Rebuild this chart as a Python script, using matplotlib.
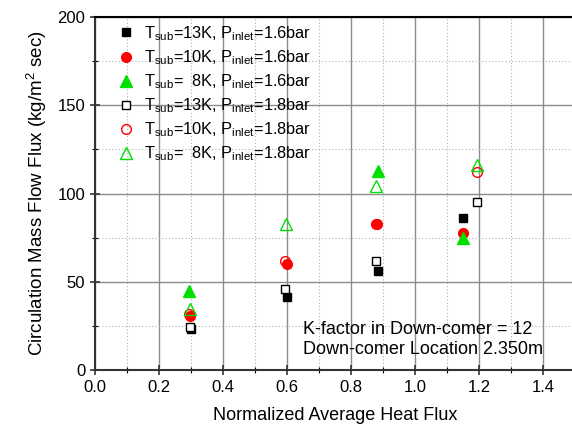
import numpy as np
import matplotlib
matplotlib.use("Agg")
from matplotlib import pyplot as plt
from matplotlib.ticker import MultipleLocator

plt.rcParams['font.family'] = ['Liberation Sans', 'DejaVu Sans']
plt.rcParams['mathtext.fontset'] = 'custom'
plt.rcParams['mathtext.rm'] = 'Liberation Sans'
plt.rcParams['mathtext.it'] = 'Liberation Sans'

# 1.6 bar series
x_13k_16 = [0.300, 0.600, 0.885, 1.151]
y_13k_16 = [23.5, 41.6, 56.3, 86.3]
x_10k_16 = [0.298, 0.600, 0.883, 1.151]
y_10k_16 = [30.5, 60.2, 82.6, 77.8]
x_8k_16 = [0.295, 0.885, 1.151]
y_8k_16 = [44.8, 112.9, 74.6]
# 1.8 bar series
x_13k_18 = [0.297, 0.595, 0.878, 1.193]
y_13k_18 = [24.2, 46.0, 61.8, 95.4]
x_10k_18 = [0.295, 0.593, 0.878, 1.193]
y_10k_18 = [31.8, 61.6, 83.0, 112.4]
x_8k_18 = [0.297, 0.597, 0.878, 1.193]
y_8k_18 = [34.4, 82.5, 104.2, 116.0]

labels = [r'T$_{\mathrm{sub}}$=13K, P$_{\mathrm{inlet}}$=1.6bar',
          r'T$_{\mathrm{sub}}$=10K, P$_{\mathrm{inlet}}$=1.6bar',
          r'T$_{\mathrm{sub}}$=  8K, P$_{\mathrm{inlet}}$=1.6bar',
          r'T$_{\mathrm{sub}}$=13K, P$_{\mathrm{inlet}}$=1.8bar',
          r'T$_{\mathrm{sub}}$=10K, P$_{\mathrm{inlet}}$=1.8bar',
          r'T$_{\mathrm{sub}}$=  8K, P$_{\mathrm{inlet}}$=1.8bar']

green = '#00e000'

fig = plt.figure(figsize=(5.72, 4.30), dpi=100)
ax = fig.add_axes([0.166, 0.1395, 0.839, 0.821])

ax.plot(x_13k_16, y_13k_16, 's', color='black', ms=6, label=labels[0], zorder=3)
ax.plot(x_10k_16, y_10k_16, 'o', color='red', ms=7, label=labels[1], zorder=3)
ax.plot(x_8k_16, y_8k_16, '^', color=green, ms=8, label=labels[2], zorder=3)
ax.plot(x_13k_18, y_13k_18, 's', mfc='white', mec='black', mew=1, ms=6, label=labels[3], zorder=4)
ax.plot(x_10k_18, y_10k_18, 'o', mfc='none', mec='red', mew=1, ms=7, label=labels[4], zorder=4)
ax.plot(x_8k_18, y_8k_18, '^', mfc='none', mec=green, mew=1, ms=8, label=labels[5], zorder=4)

ax.set_xlim(0, 1.5)
ax.set_ylim(0, 200)
ax.xaxis.set_major_locator(MultipleLocator(0.2))
ax.xaxis.set_minor_locator(MultipleLocator(0.1))
ax.yaxis.set_major_locator(MultipleLocator(50))
ax.yaxis.set_minor_locator(MultipleLocator(25))
ax.set_xticks(np.arange(0, 1.41, 0.2))
ax.set_xticklabels(['%.1f' % v for v in np.arange(0, 1.41, 0.2)])

ax.grid(which='major', color='#8c8c8c', lw=1, ls='-')
ax.grid(which='minor', color='#b0b0b0', lw=0.8, ls=(0, (1, 2)))
ax.set_axisbelow(True)

ax.tick_params(which='major', direction='inout', length=7, width=1.2, labelsize=12, colors='#333333')
ax.tick_params(which='minor', direction='inout', length=4, width=0.8)
ax.tick_params(labelcolor='black')
for s in ['left', 'bottom', 'top']:
    ax.spines[s].set_linewidth(1.5)
    ax.spines[s].set_color('#333333')
ax.spines['top'].set_color('black')
ax.spines['right'].set_visible(False)

ax.set_xlabel('Normalized Average Heat Flux', fontsize=13, labelpad=9)
ax.set_ylabel(r'Circulation Mass Flow Flux (kg/m$^{2}$ sec)', fontsize=13.5, labelpad=6)

ax.legend(loc='upper left', bbox_to_anchor=(0.02, 1.012), frameon=False, fontsize=11.8,
          handletextpad=0.5, labelspacing=0.33, handlelength=1.2, borderaxespad=0.3)

ax.text(0.434, 0.087, 'K-factor in Down-comer = 12\nDown-comer Location 2.350m',
        transform=ax.transAxes, fontsize=13, va='center', ha='left', linespacing=1.25)

fig.savefig('out.png', dpi=100)
